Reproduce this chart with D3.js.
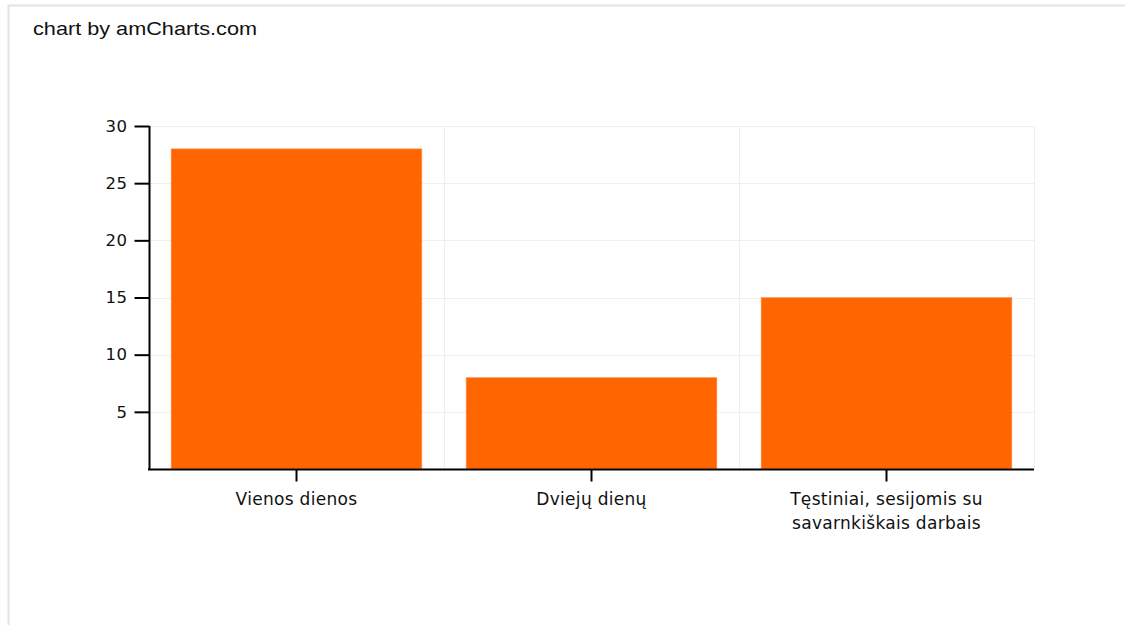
<!DOCTYPE html>
<html><head><meta charset="utf-8">
<script src="https://cdn.jsdelivr.net/npm/d3@7"></script>
<style>body{margin:0;background:#fff}svg{display:block}</style>
</head><body>
<svg id="c" width="1125" height="625"></svg>
<script>
const categories = [["Vienos dienos"], ["Dviejų dienų"], ["Tęstiniai, sesijomis su", "savarnkiškais darbais"]];
const values = [28, 8, 15];
const yTicks = [5, 10, 15, 20, 25, 30];

const svg = d3.select("#c");
const L = 149, R = 1034, T = 126, B = 469;
const x = d3.scaleBand().domain(d3.range(categories.length)).range([L, R]).paddingInner(0.15).paddingOuter(0.075);
const xb = d3.scaleBand().domain(d3.range(categories.length)).range([L, R]);
const y = d3.scaleLinear().domain([0, 30]).range([B, T]);
const FONT = "DejaVu Sans, Verdana";

// frame
svg.append("path").attr("d", "M8.5,625V5.5H1125").attr("fill", "none").attr("stroke", "#e3e3e3").attr("stroke-width", 2);
svg.append("text").attr("x", 33).attr("y", 35).attr("font-family", "Liberation Sans, Arial").attr("font-size", 19)
  .attr("textLength", 224).attr("lengthAdjust", "spacingAndGlyphs").attr("fill", "#111").text("chart by amCharts.com");

// grid
const g = svg.append("g");
g.selectAll(".hg").data(yTicks).join("line")
  .attr("x1", L).attr("x2", R).attr("y1", d => Math.round(y(d)) + 0.5).attr("y2", d => Math.round(y(d)) + 0.5)
  .attr("stroke", "#efefef");
g.selectAll(".vg").data(d3.range(1, categories.length + 1)).join("line")
  .attr("x1", d => Math.round(xb(d - 1) + xb.bandwidth()) + 0.5).attr("x2", d => Math.round(xb(d - 1) + xb.bandwidth()) + 0.5)
  .attr("y1", T).attr("y2", B).attr("stroke", "#efefef");

// bars
svg.selectAll(".bar").data(values).join("rect")
  .attr("x", (d, i) => x(i)).attr("width", x.bandwidth())
  .attr("y", d => y(d)).attr("height", d => B - y(d))
  .attr("fill", "#ff6600").attr("stroke", "#ff9a60").attr("stroke-width", 0.6);

// y axis
const ya = svg.append("g").attr("transform", `translate(${L + 0.5},0)`)
  .call(d3.axisLeft(y).tickValues(yTicks).tickSize(15).tickPadding(7));
ya.select(".domain").attr("d", `M0,${T}V${B + 0.5}`).attr("stroke", "#000").attr("stroke-width", 2);
ya.selectAll(".tick line").attr("stroke", "#000").attr("stroke-width", 2);
ya.selectAll("text").attr("font-family", FONT).attr("font-size", 16.5).attr("letter-spacing", 0.5).attr("fill", "#111");

// x axis
const xa = svg.append("g").attr("transform", `translate(0,${B + 0.5})`)
  .call(d3.axisBottom(xb).tickSize(12).tickFormat(""));
xa.select(".domain").attr("d", `M${L - 1},0H${R}`).attr("stroke", "#000").attr("stroke-width", 2);
xa.selectAll(".tick line").attr("stroke", "#000").attr("stroke-width", 2);
xa.selectAll(".tick").each(function(d) {
  const t = d3.select(this).append("text").attr("fill", "#111").attr("text-anchor", "middle")
    .attr("font-family", FONT).attr("font-size", 17).attr("letter-spacing", 0.3);
  categories[d].forEach((line, k) => t.append("tspan").attr("x", 0).attr("y", 35.5 + k * 24).text(line));
});
</script>
</body></html>
